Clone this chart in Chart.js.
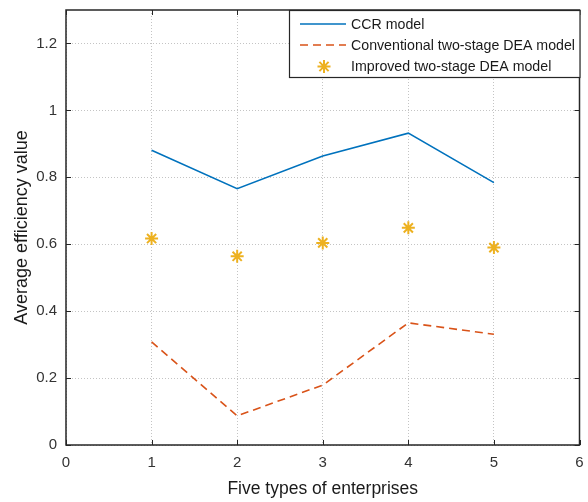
<!DOCTYPE html>
<html>
<head>
<meta charset="utf-8">
<script src="https://cdn.jsdelivr.net/npm/chart.js@4/dist/chart.umd.min.js"></script>
<style>
  html, body { margin: 0; padding: 0; background: #fff; }
  #effChart { display: block; }
</style>
</head>
<body>
<canvas id="effChart" width="588" height="502"></canvas>
<script>
// average efficiency per enterprise type
const enterprises = [1, 2, 3, 4, 5];
const ccrModel = [0.881, 0.766, 0.864, 0.932, 0.784];
const conventionalDea = [0.308, 0.087, 0.179, 0.365, 0.331];
const improvedDea = [0.617, 0.564, 0.604, 0.649, 0.590];

const xTicks = [0, 1, 2, 3, 4, 5, 6];
const yTicks = [0, 0.2, 0.4, 0.6, 0.8, 1, 1.2];

const textColor = '#333333';
const axisColor = '#262626';
const fontFamily = 'Arial, "Liberation Sans", Helvetica, sans-serif';

const toPoints = (vals) => enterprises.map((x, i) => ({x: x, y: vals[i]}));
const fmt = (v) => String(Number(v.toFixed(1)));

// box around the axes with inward tick marks on all sides
const boxPlugin = {
    id: 'boxAxes',
    afterDatasetsDraw(chart) {
        const {ctx, chartArea: a, scales} = chart;
        ctx.save();
        ctx.strokeStyle = axisColor;
        ctx.lineWidth = 1;
        const len = 5;
        ctx.beginPath();
        xTicks.forEach(v => {
            const px = Math.round(scales.x.getPixelForValue(v)) + 0.5;
            ctx.moveTo(px, a.bottom); ctx.lineTo(px, a.bottom - len);
            ctx.moveTo(px, a.top); ctx.lineTo(px, a.top + len);
        });
        yTicks.forEach(v => {
            const py = Math.round(scales.y.getPixelForValue(v)) + 0.5;
            ctx.moveTo(a.left, py); ctx.lineTo(a.left + len, py);
            ctx.moveTo(a.right, py); ctx.lineTo(a.right - len, py);
        });
        ctx.stroke();
        ctx.lineWidth = 1.5;
        ctx.strokeRect(a.left, a.top, a.right - a.left, a.bottom - a.top);
        ctx.restore();
    }
};

// legend drawn inside the top-right corner of the plot
const legendPlugin = {
    id: 'insideLegend',
    afterDraw(chart) {
        const {ctx, chartArea: a} = chart;
        const boxLeft = 289, boxTop = a.top, boxRight = a.right + 1, boxBottom = 78;
        ctx.save();
        ctx.fillStyle = '#fff';
        ctx.fillRect(boxLeft, boxTop, boxRight - boxLeft, boxBottom - boxTop);
        ctx.strokeStyle = axisColor;
        ctx.lineWidth = 1.2;
        ctx.strokeRect(boxLeft + 0.5, boxTop + 0.5, boxRight - boxLeft - 1, boxBottom - boxTop - 1);

        const rows = [24, 45, 66.5];
        ctx.font = '14.2px ' + fontFamily;
        ctx.textBaseline = 'middle';
        ctx.fillStyle = '#1a1a1a';
        chart.data.datasets.forEach((ds, i) => {
            const y = rows[i];
            if (ds.showLine === false) {
                // asterisk marker
                ctx.strokeStyle = ds.pointBorderColor;
                ctx.lineWidth = ds.pointBorderWidth;
                const r = ds.pointRadius, cx = 324;
                ctx.beginPath();
                for (let k = 0; k < 4; k++) {
                    const ang = k * Math.PI / 4;
                    ctx.moveTo(cx - r * Math.cos(ang), y - r * Math.sin(ang));
                    ctx.lineTo(cx + r * Math.cos(ang), y + r * Math.sin(ang));
                }
                ctx.stroke();
            } else {
                ctx.strokeStyle = ds.borderColor;
                ctx.lineWidth = ds.borderWidth;
                ctx.setLineDash(ds.borderDash || []);
                ctx.beginPath();
                ctx.moveTo(300, y); ctx.lineTo(346, y);
                ctx.stroke();
                ctx.setLineDash([]);
            }
            ctx.fillText(ds.label, 351, y + 1);
        });
        ctx.restore();
    }
};

new Chart(document.getElementById('effChart'), {
    type: 'line',
    data: {
        datasets: [{
            label: 'CCR model',
            data: toPoints(ccrModel),
            borderColor: '#0072BD',
            borderWidth: 1.6,
            pointRadius: 0,
            tension: 0
        }, {
            label: 'Conventional two-stage DEA model',
            data: toPoints(conventionalDea),
            borderColor: '#D95319',
            borderWidth: 1.6,
            borderDash: [8, 5],
            pointRadius: 0,
            tension: 0
        }, {
            label: 'Improved two-stage DEA model',
            data: toPoints(improvedDea),
            showLine: false,
            pointStyle: 'star',
            pointRadius: 6.5,
            pointBorderWidth: 2,
            pointBorderColor: '#EDB120',
            pointBackgroundColor: '#EDB120'
        }]
    },
    options: {
        responsive: false,
        animation: false,
        layout: {padding: {top: 10, right: 7, left: 0, bottom: 0}},
        plugins: {
            legend: {display: false},
            tooltip: {enabled: false}
        },
        scales: {
            x: {
                type: 'linear',
                min: 0,
                max: 6,
                afterFit: (s) => { s.height = 57; s.paddingLeft = 0; s.paddingRight = 0; },
                afterBuildTicks: (s) => { s.ticks = xTicks.map(v => ({value: v})); },
                ticks: {
                    padding: 9,
                    color: textColor,
                    font: {family: fontFamily, size: 15},
                    callback: (v) => fmt(v)
                },
                grid: {color: '#c4c4c4', lineWidth: 1, drawTicks: false},
                border: {display: false, dash: [1, 2]},
                title: {
                    display: true,
                    text: 'Five types of enterprises',
                    color: '#1a1a1a',
                    font: {family: fontFamily, size: 17.5},
                    padding: {top: 2, bottom: 2}
                }
            },
            y: {
                min: 0,
                max: 1.3,
                afterFit: (s) => { s.width = 66; s.paddingTop = 0; s.paddingBottom = 0; },
                afterBuildTicks: (s) => { s.ticks = yTicks.map(v => ({value: v})); },
                ticks: {
                    padding: 9,
                    color: textColor,
                    font: {family: fontFamily, size: 15},
                    callback: (v) => fmt(v)
                },
                grid: {color: '#c4c4c4', lineWidth: 1, drawTicks: false},
                border: {display: false, dash: [1, 2]},
                title: {
                    display: true,
                    text: 'Average efficiency value',
                    color: '#1a1a1a',
                    font: {family: fontFamily, size: 18},
                    padding: {top: 11, bottom: 0}
                }
            }
        }
    },
    plugins: [boxPlugin, legendPlugin]
});
</script>
</body>
</html>
